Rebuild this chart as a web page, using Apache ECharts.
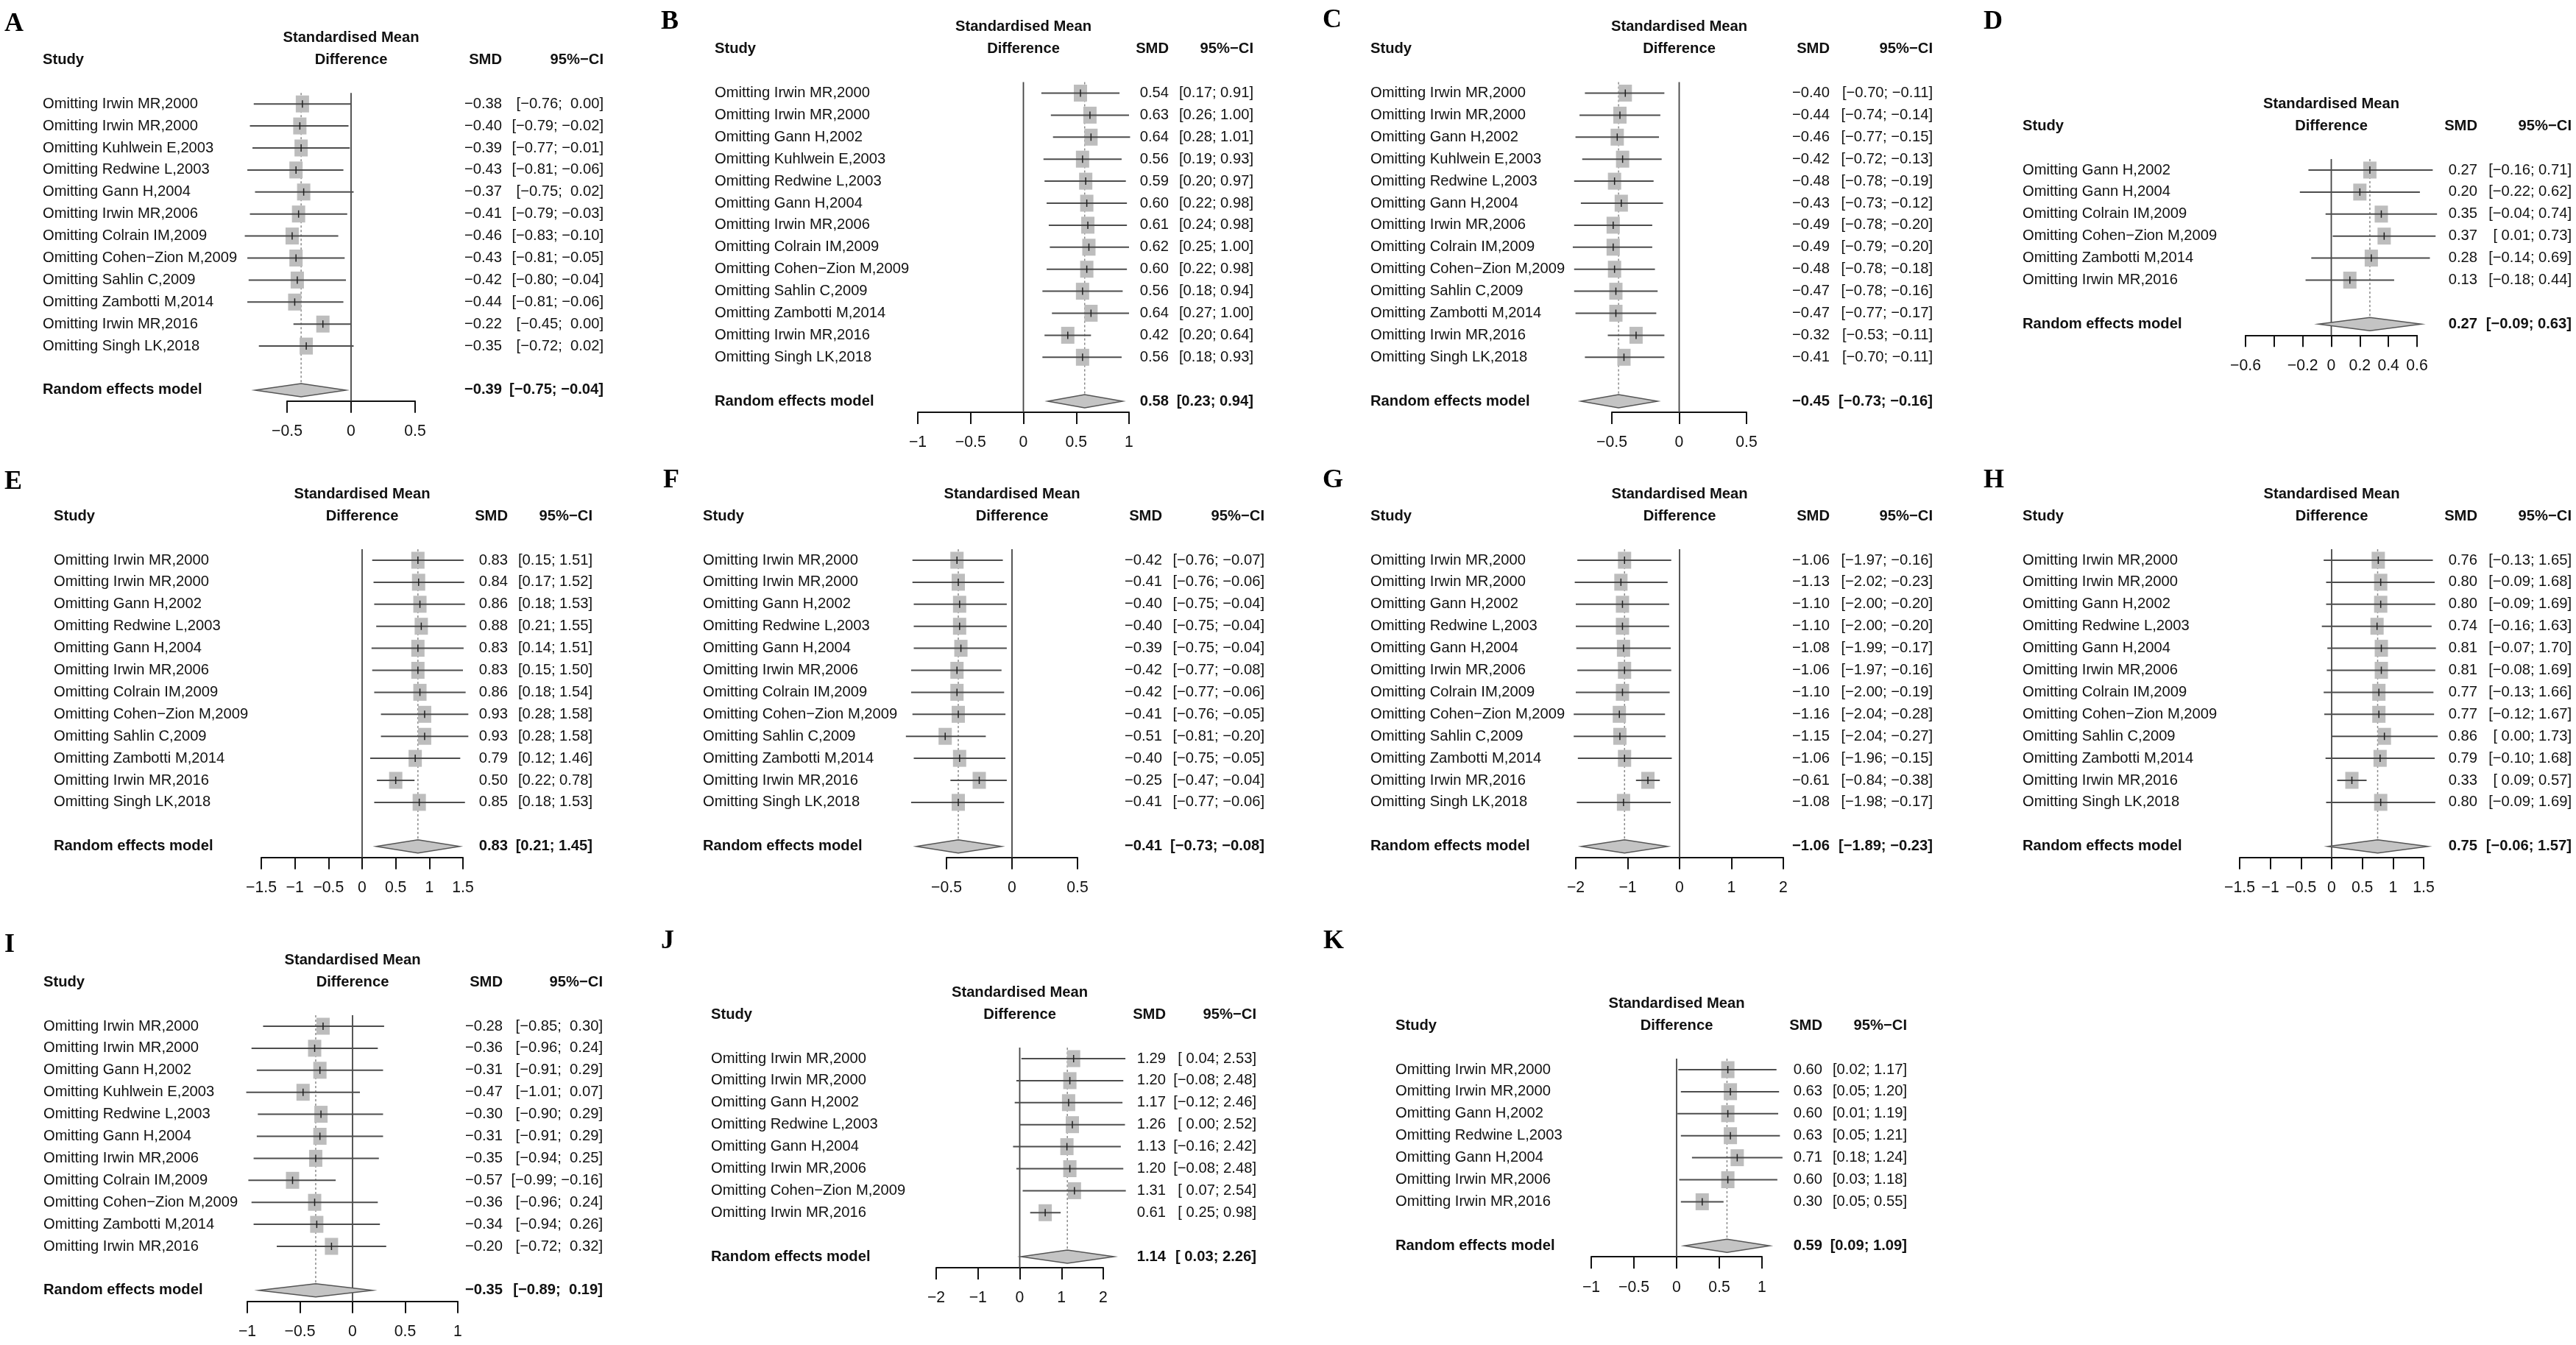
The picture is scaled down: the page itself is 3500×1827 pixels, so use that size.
<!DOCTYPE html>
<html><head><meta charset="utf-8">
<script src="https://cdn.jsdelivr.net/npm/echarts@6/dist/echarts.min.js"></script>
<style>html,body{margin:0;padding:0;background:#fff}#c{width:3500px;height:1827px}</style>
</head><body><div id="c"></div>
<script>
// ---------------- DATA ----------------
const A_study = ["Omitting Irwin MR,2000","Omitting Irwin MR,2000","Omitting Kuhlwein E,2003","Omitting Redwine L,2003","Omitting Gann H,2004","Omitting Irwin MR,2006","Omitting Colrain IM,2009","Omitting Cohen\u2212Zion M,2009","Omitting Sahlin C,2009","Omitting Zambotti M,2014","Omitting Irwin MR,2016","Omitting Singh LK,2018"];
const A_smd   = [-0.38,-0.40,-0.39,-0.43,-0.37,-0.41,-0.46,-0.43,-0.42,-0.44,-0.22,-0.35];
const A_lower = [-0.76,-0.79,-0.77,-0.81,-0.75,-0.79,-0.83,-0.81,-0.80,-0.81,-0.45,-0.72];
const A_upper = [0.00,-0.02,-0.01,-0.06,0.02,-0.03,-0.10,-0.05,-0.04,-0.06,0.00,0.02];
const A_pooled = [-0.39,-0.75,-0.04];
const A_ticks = [-0.5,0,0.5];
const A_tickLabels = ["\u22120.5","0","0.5"];

const B_study = ["Omitting Irwin MR,2000","Omitting Irwin MR,2000","Omitting Gann H,2002","Omitting Kuhlwein E,2003","Omitting Redwine L,2003","Omitting Gann H,2004","Omitting Irwin MR,2006","Omitting Colrain IM,2009","Omitting Cohen\u2212Zion M,2009","Omitting Sahlin C,2009","Omitting Zambotti M,2014","Omitting Irwin MR,2016","Omitting Singh LK,2018"];
const B_smd   = [0.54,0.63,0.64,0.56,0.59,0.60,0.61,0.62,0.60,0.56,0.64,0.42,0.56];
const B_lower = [0.17,0.26,0.28,0.19,0.20,0.22,0.24,0.25,0.22,0.18,0.27,0.20,0.18];
const B_upper = [0.91,1.00,1.01,0.93,0.97,0.98,0.98,1.00,0.98,0.94,1.00,0.64,0.93];
const B_pooled = [0.58,0.23,0.94];
const B_ticks = [-1,-0.5,0,0.5,1];
const B_tickLabels = ["\u22121","\u22120.5","0","0.5","1"];

const C_study = B_study.slice();
const C_smd   = [-0.40,-0.44,-0.46,-0.42,-0.48,-0.43,-0.49,-0.49,-0.48,-0.47,-0.47,-0.32,-0.41];
const C_lower = [-0.70,-0.74,-0.77,-0.72,-0.78,-0.73,-0.78,-0.79,-0.78,-0.78,-0.77,-0.53,-0.70];
const C_upper = [-0.11,-0.14,-0.15,-0.13,-0.19,-0.12,-0.20,-0.20,-0.18,-0.16,-0.17,-0.11,-0.11];
const C_pooled = [-0.45,-0.73,-0.16];
const C_ticks = [-0.5,0,0.5];
const C_tickLabels = ["\u22120.5","0","0.5"];

const D_study = ["Omitting Gann H,2002","Omitting Gann H,2004","Omitting Colrain IM,2009","Omitting Cohen\u2212Zion M,2009","Omitting Zambotti M,2014","Omitting Irwin MR,2016"];
const D_smd   = [0.27,0.20,0.35,0.37,0.28,0.13];
const D_lower = [-0.16,-0.22,-0.04,0.01,-0.14,-0.18];
const D_upper = [0.71,0.62,0.74,0.73,0.69,0.44];
const D_pooled = [0.27,-0.09,0.63];
const D_ticks = [-0.6,-0.4,-0.2,0,0.2,0.4,0.6];
const D_tickLabels = ["\u22120.6","","\u22120.2","0","0.2","0.4","0.6"];

const EFGH_study = ["Omitting Irwin MR,2000","Omitting Irwin MR,2000","Omitting Gann H,2002","Omitting Redwine L,2003","Omitting Gann H,2004","Omitting Irwin MR,2006","Omitting Colrain IM,2009","Omitting Cohen\u2212Zion M,2009","Omitting Sahlin C,2009","Omitting Zambotti M,2014","Omitting Irwin MR,2016","Omitting Singh LK,2018"];

const E_smd   = [0.83,0.84,0.86,0.88,0.83,0.83,0.86,0.93,0.93,0.79,0.50,0.85];
const E_lower = [0.15,0.17,0.18,0.21,0.14,0.15,0.18,0.28,0.28,0.12,0.22,0.18];
const E_upper = [1.51,1.52,1.53,1.55,1.51,1.50,1.54,1.58,1.58,1.46,0.78,1.53];
const E_pooled = [0.83,0.21,1.45];
const E_ticks = [-1.5,-1,-0.5,0,0.5,1,1.5];
const E_tickLabels = ["\u22121.5","\u22121","\u22120.5","0","0.5","1","1.5"];

const F_smd   = [-0.42,-0.41,-0.40,-0.40,-0.39,-0.42,-0.42,-0.41,-0.51,-0.40,-0.25,-0.41];
const F_lower = [-0.76,-0.76,-0.75,-0.75,-0.75,-0.77,-0.77,-0.76,-0.81,-0.75,-0.47,-0.77];
const F_upper = [-0.07,-0.06,-0.04,-0.04,-0.04,-0.08,-0.06,-0.05,-0.20,-0.05,-0.04,-0.06];
const F_pooled = [-0.41,-0.73,-0.08];
const F_ticks = [-0.5,0,0.5];
const F_tickLabels = ["\u22120.5","0","0.5"];

const G_smd   = [-1.06,-1.13,-1.10,-1.10,-1.08,-1.06,-1.10,-1.16,-1.15,-1.06,-0.61,-1.08];
const G_lower = [-1.97,-2.02,-2.00,-2.00,-1.99,-1.97,-2.00,-2.04,-2.04,-1.96,-0.84,-1.98];
const G_upper = [-0.16,-0.23,-0.20,-0.20,-0.17,-0.16,-0.19,-0.28,-0.27,-0.15,-0.38,-0.17];
const G_pooled = [-1.06,-1.89,-0.23];
const G_ticks = [-2,-1,0,1,2];
const G_tickLabels = ["\u22122","\u22121","0","1","2"];

const H_smd   = [0.76,0.80,0.80,0.74,0.81,0.81,0.77,0.77,0.86,0.79,0.33,0.80];
const H_lower = [-0.13,-0.09,-0.09,-0.16,-0.07,-0.08,-0.13,-0.12,0.00,-0.10,0.09,-0.09];
const H_upper = [1.65,1.68,1.69,1.63,1.70,1.69,1.66,1.67,1.73,1.68,0.57,1.69];
const H_pooled = [0.75,-0.06,1.57];
const H_ticks = [-1.5,-1,-0.5,0,0.5,1,1.5];
const H_tickLabels = ["\u22121.5","\u22121","\u22120.5","0","0.5","1","1.5"];

const I_study = ["Omitting Irwin MR,2000","Omitting Irwin MR,2000","Omitting Gann H,2002","Omitting Kuhlwein E,2003","Omitting Redwine L,2003","Omitting Gann H,2004","Omitting Irwin MR,2006","Omitting Colrain IM,2009","Omitting Cohen\u2212Zion M,2009","Omitting Zambotti M,2014","Omitting Irwin MR,2016"];
const I_smd   = [-0.28,-0.36,-0.31,-0.47,-0.30,-0.31,-0.35,-0.57,-0.36,-0.34,-0.20];
const I_lower = [-0.85,-0.96,-0.91,-1.01,-0.90,-0.91,-0.94,-0.99,-0.96,-0.94,-0.72];
const I_upper = [0.30,0.24,0.29,0.07,0.29,0.29,0.25,-0.16,0.24,0.26,0.32];
const I_pooled = [-0.35,-0.89,0.19];
const I_ticks = [-1,-0.5,0,0.5,1];
const I_tickLabels = ["\u22121","\u22120.5","0","0.5","1"];

const J_study = ["Omitting Irwin MR,2000","Omitting Irwin MR,2000","Omitting Gann H,2002","Omitting Redwine L,2003","Omitting Gann H,2004","Omitting Irwin MR,2006","Omitting Cohen\u2212Zion M,2009","Omitting Irwin MR,2016"];
const J_smd   = [1.29,1.20,1.17,1.26,1.13,1.20,1.31,0.61];
const J_lower = [0.04,-0.08,-0.12,0.00,-0.16,-0.08,0.07,0.25];
const J_upper = [2.53,2.48,2.46,2.52,2.42,2.48,2.54,0.98];
const J_pooled = [1.14,0.03,2.26];
const J_ticks = [-2,-1,0,1,2];
const J_tickLabels = ["\u22122","\u22121","0","1","2"];

const K_study = ["Omitting Irwin MR,2000","Omitting Irwin MR,2000","Omitting Gann H,2002","Omitting Redwine L,2003","Omitting Gann H,2004","Omitting Irwin MR,2006","Omitting Irwin MR,2016"];
const K_smd   = [0.60,0.63,0.60,0.63,0.71,0.60,0.30];
const K_lower = [0.02,0.05,0.01,0.05,0.18,0.03,0.05];
const K_upper = [1.17,1.20,1.19,1.21,1.24,1.18,0.55];
const K_pooled = [0.59,0.09,1.09];
const K_ticks = [-1,-0.5,0,0.5,1];
const K_tickLabels = ["\u22121","\u22120.5","0","0.5","1"];

// ---------------- LAYOUT (pixels) ----------------
const STEP = 29.9;
const LAYOUT = {
  A:{letter:[6,33],    studyX:58,   ax:[390,564],   smdR:682,  ciR:820,  y0:141.2},
  B:{letter:[898,30],  studyX:971,  ax:[1247,1534], smdR:1588, ciR:1703, y0:126.5},
  C:{letter:[1797,28], studyX:1862, ax:[2190,2373], smdR:2486, ciR:2626, y0:126.5},
  D:{letter:[2695,30], studyX:2748, ax:[3051,3284], smdR:3366, ciR:3494, y0:231},
  E:{letter:[6,655],   studyX:73,   ax:[355,629],   smdR:690,  ciR:805,  y0:761},
  F:{letter:[901,653], studyX:955,  ax:[1286,1464], smdR:1579, ciR:1718, y0:761},
  G:{letter:[1797,653],studyX:1862, ax:[2141,2423], smdR:2486, ciR:2626, y0:761},
  H:{letter:[2695,653],studyX:2748, ax:[3043,3293], smdR:3366, ciR:3494, y0:761},
  I:{letter:[6,1284],  studyX:59,   ax:[336,622],   smdR:683,  ciR:819,  y0:1394},
  J:{letter:[898,1279],studyX:966,  ax:[1272,1499], smdR:1584, ciR:1707, y0:1438},
  K:{letter:[1798,1279],studyX:1896,ax:[2162,2394], smdR:2476, ciR:2591, y0:1453}
};

const PANELS = [
  {id:'A', study:A_study, smd:A_smd, lo:A_lower, hi:A_upper, pooled:A_pooled, ticks:A_ticks, tl:A_tickLabels},
  {id:'B', study:B_study, smd:B_smd, lo:B_lower, hi:B_upper, pooled:B_pooled, ticks:B_ticks, tl:B_tickLabels},
  {id:'C', study:C_study, smd:C_smd, lo:C_lower, hi:C_upper, pooled:C_pooled, ticks:C_ticks, tl:C_tickLabels},
  {id:'D', study:D_study, smd:D_smd, lo:D_lower, hi:D_upper, pooled:D_pooled, ticks:D_ticks, tl:D_tickLabels},
  {id:'E', study:EFGH_study, smd:E_smd, lo:E_lower, hi:E_upper, pooled:E_pooled, ticks:E_ticks, tl:E_tickLabels},
  {id:'F', study:EFGH_study, smd:F_smd, lo:F_lower, hi:F_upper, pooled:F_pooled, ticks:F_ticks, tl:F_tickLabels},
  {id:'G', study:EFGH_study, smd:G_smd, lo:G_lower, hi:G_upper, pooled:G_pooled, ticks:G_ticks, tl:G_tickLabels},
  {id:'H', study:EFGH_study, smd:H_smd, lo:H_lower, hi:H_upper, pooled:H_pooled, ticks:H_ticks, tl:H_tickLabels},
  {id:'I', study:I_study, smd:I_smd, lo:I_lower, hi:I_upper, pooled:I_pooled, ticks:I_ticks, tl:I_tickLabels},
  {id:'J', study:J_study, smd:J_smd, lo:J_lower, hi:J_upper, pooled:J_pooled, ticks:J_ticks, tl:J_tickLabels},
  {id:'K', study:K_study, smd:K_smd, lo:K_lower, hi:K_upper, pooled:K_pooled, ticks:K_ticks, tl:K_tickLabels}
];

// ---------------- FONT ----------------
const cv = document.createElement('canvas').getContext('2d');
const probe = 'Omitting Irwin MR,2000';
function has(f){cv.font='100px monospace';const a=cv.measureText(probe).width;cv.font="100px '"+f+"', monospace";return Math.abs(cv.measureText(probe).width-a)>0.5;}
const FAM0 = ['Liberation Sans','Arial','Roboto'].find(has) || 'sans-serif';
const FAM = "'" + FAM0 + "'";
cv.font = '100px ' + FAM;
const FS = Math.round(100*211/cv.measureText(probe).width*10)/10;
const TXT = '#111';

// ---------------- HELPERS ----------------
const num = v => (v < 0 ? '\u2212' : '') + Math.abs(v).toFixed(2);
function col(vals){ const neg = vals.some(v => v < 0); return vals.map(v => (neg && v >= 0 ? ' ' : '') + num(v)); }
function txt(x, y, text, align, bold){
  return {type:'text', x:x, y:y, style:{text:text, fill:TXT, fontSize:FS, fontFamily:FAM, fontWeight:bold?'bold':'normal', align:align, verticalAlign:'middle'}};
}

const grids = [], xAxes = [], yAxes = [], series = [], graphics = [];
PANELS.forEach((P, gi) => {
  const L = LAYOUT[P.id];
  const n = P.smd.length;
  const reRow = n + 1;
  const lowStr = col(P.lo.concat([P.pooled[1]]));
  const upStr = col(P.hi.concat([P.pooled[2]]));
  const ciStr = lowStr.map((s, i) => '[' + s + '; ' + upStr[i] + ']');
  const t0 = P.ticks[0], tN = P.ticks[P.ticks.length - 1];
  const itv = P.ticks[1] - P.ticks[0];

  grids.push({left:L.ax[0], width:L.ax[1]-L.ax[0], top:L.y0 - 0.5*STEP, height:(n + 2)*STEP, containLabel:false, outerBoundsMode:'none'});
  xAxes.push({gridIndex:gi, type:'value', min:t0, max:tN, interval:itv, position:'bottom',
    axisLine:{show:true, onZero:false, lineStyle:{color:'#111', width:2}},
    axisTick:{show:true, length:16, inside:false, lineStyle:{color:'#111', width:2}},
    axisLabel:{show:true, margin:31, fontSize:FS + 1, fontFamily:FAM, color:TXT, showMinLabel:true, showMaxLabel:true,
      formatter: v => { const k = Math.round((v - t0) / itv); return P.tl[k] !== undefined ? P.tl[k] : ''; }},
    splitLine:{show:false}});
  yAxes.push({gridIndex:gi, type:'value', inverse:true, min:-0.5, max:n + 1.5, show:false});

  // guides: zero line, dotted pooled line, headers
  series.push({type:'custom', xAxisIndex:gi, yAxisIndex:gi, z:1, clip:false, silent:true,
    data:[[P.pooled[0], reRow]],
    renderItem:(params, api) => {
      const z1 = api.coord([0, -0.5]), z2 = api.coord([0, n + 1.5]);
      const d1 = api.coord([P.pooled[0], -0.5]), d2 = api.coord([P.pooled[0], reRow - 0.32]);
      const cx = api.coord([(t0 + tN) / 2, -3]);
      const cy2 = api.coord([(t0 + tN) / 2, -2]);
      return {type:'group', children:[
        {type:'line', shape:{x1:d1[0], y1:d1[1], x2:d2[0], y2:d2[1]}, style:{stroke:'#8a8a8a', lineWidth:1.5, lineDash:[3,3]}},
        {type:'line', shape:{x1:z1[0], y1:z1[1], x2:z2[0], y2:z2[1]}, style:{stroke:'#444', lineWidth:1.8}},
        txt(cx[0], cx[1], 'Standardised Mean', 'center', true),
        txt(cy2[0], cy2[1], 'Difference', 'center', true),
        txt(L.studyX, cy2[1], 'Study', 'left', true),
        txt(L.smdR, cy2[1], 'SMD', 'right', true),
        txt(L.ciR, cy2[1], '95%\u2212CI', 'right', true)
      ]};
    }});

  // study rows + pooled diamond
  const data = P.smd.map((v, i) => [v, i, P.lo[i], P.hi[i]]);
  data.push([P.pooled[0], reRow, P.pooled[1], P.pooled[2]]);
  series.push({type:'custom', xAxisIndex:gi, yAxisIndex:gi, z:3, clip:false, silent:true,
    encode:{x:[0,2,3], y:1},
    data:data,
    renderItem:(params, api) => {
      const i = params.dataIndex;
      const c = api.coord([api.value(0), api.value(1)]);
      const l = api.coord([api.value(2), api.value(1)]);
      const h = api.coord([api.value(3), api.value(1)]);
      const y = c[1];
      if (i === n) {
        return {type:'group', children:[
          {type:'polygon', shape:{points:[[l[0], y], [c[0], y - 9], [h[0], y], [c[0], y + 9]]}, style:{fill:'#c4c4c4', stroke:'#555', lineWidth:1.5}},
          txt(L.studyX, y, 'Random effects model', 'left', true),
          txt(L.smdR, y, num(P.pooled[0]), 'right', true),
          txt(L.ciR, y, ciStr[i], 'right', true)
        ]};
      }
      return {type:'group', children:[
        {type:'rect', shape:{x:c[0] - 9, y:y - 11.5, width:18, height:23}, style:{fill:'#bdbdbd'}},
        {type:'line', shape:{x1:l[0], y1:y, x2:h[0], y2:y}, style:{stroke:'#4d4d4d', lineWidth:2}},
        {type:'line', shape:{x1:c[0], y1:y - 5, x2:c[0], y2:y + 5}, style:{stroke:'#222', lineWidth:1.5}},
        txt(L.studyX, y, P.study[i], 'left', false),
        txt(L.smdR, y, num(P.smd[i]), 'right', false),
        txt(L.ciR, y, ciStr[i], 'right', false)
      ]};
    }});

  graphics.push({type:'text', x:L.letter[0], y:L.letter[1], style:{text:P.id, fill:'#000', fontSize:36, fontWeight:'bold', fontFamily:"'Liberation Serif', 'Times New Roman', serif", verticalAlign:'middle', align:'left'}});
});

const chart = echarts.init(document.getElementById('c'), null, {renderer:'canvas'});
chart.setOption({
  backgroundColor:'#ffffff',
  animation:false,
  grid:grids, xAxis:xAxes, yAxis:yAxes, series:series, graphic:graphics
});
</script>
</body></html>
